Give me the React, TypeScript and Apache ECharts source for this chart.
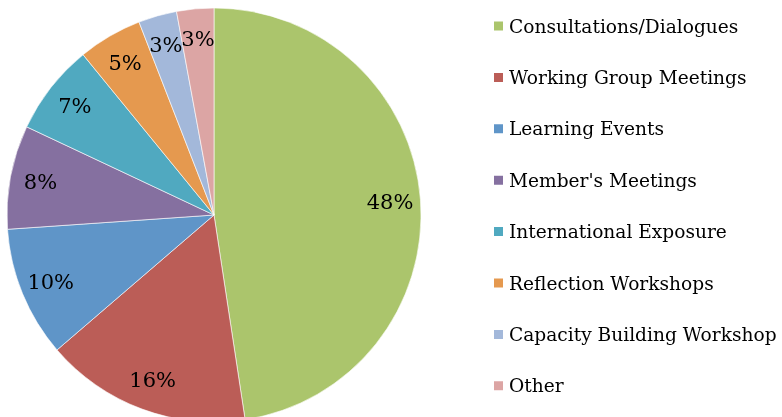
import React, { useEffect, useRef } from "react";
import * as echarts from "echarts";

const categories = [
  "Consultations/Dialogues",
  "Working Group Meetings",
  "Learning Events",
  "Member's Meetings",
  "International Exposure",
  "Reflection Workshops",
  "Capacity Building Workshop",
  "Other",
];
const values = [47.6, 16.1, 10.2, 8.1, 7.1, 5.0, 3.0, 2.9];
const colors = ["#ABC56C", "#BB5D57", "#5F95C8", "#8570A0", "#50A9C0", "#E5994F", "#A3B8DA", "#DCA5A4"];

const FONT = "DejaVu Serif";

export default function App() {
  const ref = useRef<HTMLDivElement>(null);
  useEffect(() => {
    if (!ref.current) return;
    const chart = echarts.init(ref.current, null, { renderer: "svg" });
    const data = categories.map((name, i) => ({ name, value: values[i] }));
    chart.setOption({
      animation: false,
      color: colors,
      legend: {
        orient: "vertical",
        left: 492,
        top: 16,
        padding: 0,
        icon: "rect",
        itemWidth: 11,
        itemHeight: 11,
        itemGap: 31.4,
        textStyle: { fontFamily: FONT, fontSize: 18.6, color: "#000", lineHeight: 20 },
        data: categories,
      },
      series: [
        {
          type: "pie",
          center: [214, 215],
          radius: [0, 207],
          startAngle: 90,
          clockwise: true,
          data,
          label: { show: false },
          labelLine: { show: false },
          itemStyle: { borderColor: "#ffffff", borderWidth: 0.6 },
          emphasis: { disabled: true },
          silent: true,
        },
        {
          type: "pie",
          center: [214, 215],
          radius: [140, 207],
          startAngle: 90,
          clockwise: true,
          data,
          avoidLabelOverlap: false,
          labelLayout: { hideOverlap: false },
          legendHoverLink: false,
          itemStyle: { color: "rgba(0,0,0,0)" },
          label: {
            show: true,
            position: "inside",
            formatter: (p: any) => Math.round(p.value) + "%",
            fontFamily: FONT,
            fontSize: 21,
            color: "#000",
          },
          labelLine: { show: false },
          emphasis: { disabled: true },
          silent: true,
        },
      ],
    });
    return () => chart.dispose();
  }, []);
  return <div ref={ref} style={{ position: "fixed", left: 0, top: 0, width: 782, height: 417 }} />;
}
